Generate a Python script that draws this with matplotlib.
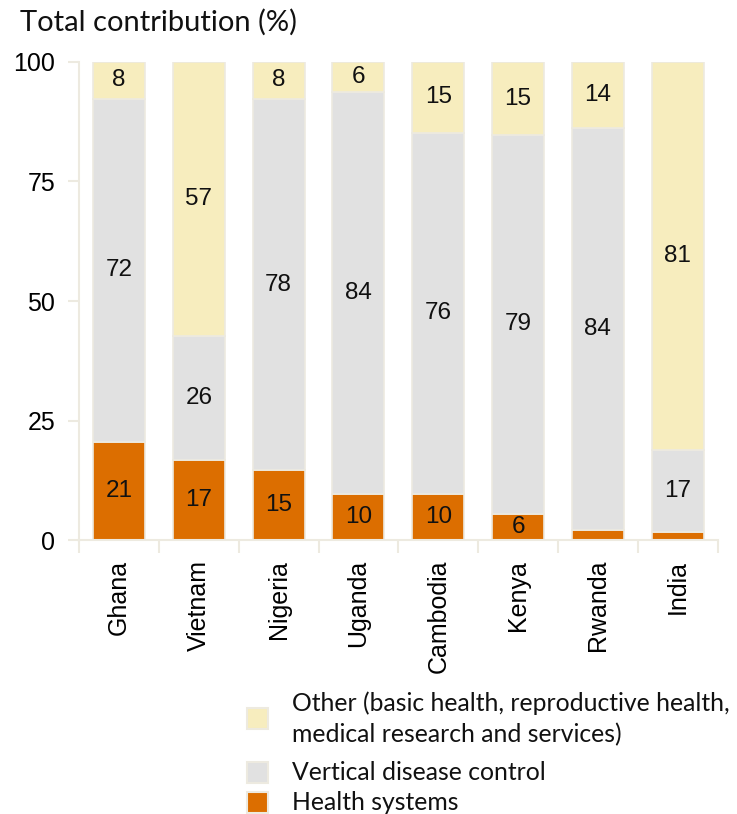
import matplotlib
matplotlib.use("Agg")
import matplotlib.pyplot as plt
from matplotlib.patches import Rectangle
import numpy as np

countries = ["Ghana", "Vietnam", "Nigeria", "Uganda", "Cambodia", "Kenya", "Rwanda", "India"]
health_systems = [20.6, 16.8, 14.6, 9.6, 9.6, 5.6, 2.2, 1.8]
vertical_disease = [71.6, 25.9, 77.7, 84.0, 75.6, 79.0, 84.0, 17.0]
other = [7.8, 57.3, 7.7, 6.4, 14.8, 15.4, 13.8, 81.2]
yticks = [0, 25, 50, 75, 100]

c_health = "#DC6E00"
c_vert = "#E1E1E1"
c_other = "#F7EDBE"
c_edge = "#EDEAE0"
num_font = "Liberation Sans"
txt_font = "Lato"

fig = plt.figure(figsize=(7.37, 8.14), dpi=100)
ax = fig.add_axes([0.1072, 0.3362, 0.8666, 0.588])

x = np.arange(len(countries))
h = np.array(health_systems)
v = np.array(vertical_disease)
o = np.array(other)
w = 0.65
series = [(h, np.zeros_like(h), c_health), (v, h, c_vert), (o, h + v, c_other)]
for vals, base, col in series:
    ax.bar(x, vals, w, bottom=base, color=col, edgecolor=c_edge, linewidth=1.2)
    for xi, val, b in zip(x, vals, base):
        if val >= 5:
            ax.text(xi, b + val / 2, f"{val:.0f}", ha="center", va="center",
                    fontsize=17.5, family=num_font, color="#111111")

ax.set_xlim(-0.5, len(countries) - 0.5)
ax.set_ylim(0, 100)
ax.set_yticks(yticks)
ax.set_yticklabels([str(t) for t in yticks], fontsize=18, family=num_font)
ax.set_xticks(x)
ax.set_xticklabels(countries, rotation=90, fontsize=18, family=num_font)
ax.set_xticks(np.arange(-0.5, len(countries)), minor=True)
ax.tick_params(axis="x", which="major", length=0, pad=14)
ax.tick_params(axis="x", which="minor", length=9, width=1.5, color=c_edge)
ax.tick_params(axis="y", length=8, width=1.5, color=c_edge, pad=9)
for s in ["top", "right"]:
    ax.spines[s].set_visible(False)
for s in ["left", "bottom"]:
    ax.spines[s].set_color(c_edge)
    ax.spines[s].set_linewidth(1.5)

fig.text(20 / 737, 1 - 22 / 814, "Total contribution (%)", fontsize=21,
         family=txt_font, va="center", ha="left", color="#111111")

# legend
W, H = 737, 814
items = [
    (c_other, 718, ["Other (basic health, reproductive health,", "medical research and services)"], [703, 735]),
    (c_vert, 772, ["Vertical disease control"], [772]),
    (c_health, 802, ["Health systems"], [802]),
]
sq = 21
for col, yc, lines, ys in items:
    fig.add_artist(Rectangle((247 / W, 1 - (yc + sq / 2) / H), sq / W, sq / H,
                             transform=fig.transFigure, facecolor=col,
                             edgecolor=c_edge, linewidth=1.5))
    for line, yl in zip(lines, ys):
        fig.text(292 / W, 1 - yl / H, line, fontsize=17.8, family=txt_font,
                 va="center", ha="left", color="#111111")

fig.savefig("out.png", dpi=100)
